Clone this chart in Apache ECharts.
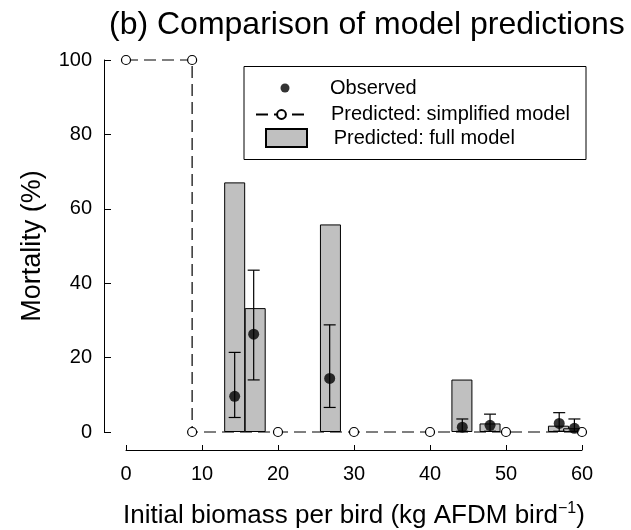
<!DOCTYPE html>
<html>
<head>
<meta charset="utf-8">
<script src="https://cdn.jsdelivr.net/npm/echarts@6/dist/echarts.min.js"></script>
<style>html,body{margin:0;padding:0;background:#fff}#c{width:631px;height:530px}</style>
</head>
<body>
<div id="c"></div>
<script>
// Observed mortality (%) with error range
const obsX = [14.3, 16.8, 26.8, 44.25, 47.9, 57.0, 59.0];
const obsY = [9.6, 26.3, 14.4, 1.3, 1.8, 2.3, 1.0];
const obsLow = [3.9, 14.0, 6.6, 0.2, 0.2, 0.2, 0.2];
const obsHigh = [21.4, 43.5, 28.8, 3.5, 4.8, 5.2, 3.5];
// Predicted: full model (bars)
const fullX = [14.3, 17.0, 26.9, 44.2, 47.9, 56.9, 58.9];
const fullY = [67.1, 33.3, 55.8, 14.1, 2.3, 1.7, 1.0];
// Predicted: simplified model
const simpleX = [0, 8.7, 8.7, 20, 30, 40, 50, 60];
const simpleY = [100, 100, 0, 0, 0, 0, 0, 0];
// Axis ticks
const xTicks = [0, 10, 20, 30, 40, 50, 60];
const yTicks = [0, 20, 40, 60, 80, 100];

const FONT = 'Liberation Sans, Arial, Helvetica, sans-serif';
const chart = echarts.init(document.getElementById('c'), null, {renderer: 'canvas'});

const option = {
  animation: false,
  backgroundColor: '#fff',
  title: {
    text: '(b) Comparison of model predictions',
    left: 104, top: 4,
    textStyle: {fontFamily: FONT, fontSize: 32, fontWeight: 'normal', color: '#000'}
  },
  grid: {left: 126, right: 49, top: 60, bottom: 98, containLabel: false, outerBoundsMode: 'none'},
  xAxis: {
    type: 'value', min: xTicks[0], max: xTicks[xTicks.length - 1], interval: 10,
    offset: 18,
    name: 'Initial biomass per bird (kg AFDM bird{sup|\u22121})',
    nameLocation: 'middle', nameGap: 51,
    nameTextStyle: {
      fontFamily: FONT, fontSize: 26, color: '#000',
      rich: {sup: {fontFamily: FONT, fontSize: 16, color: '#000', verticalAlign: 'top', padding: [0, 0, 13, 0]}}
    },
    axisLine: {show: true, onZero: false, lineStyle: {color: '#000', width: 1}},
    axisTick: {show: true, inside: true, length: 5, lineStyle: {color: '#000'}},
    axisLabel: {margin: 14, fontFamily: FONT, fontSize: 20, color: '#000'},
    splitLine: {show: false}
  },
  yAxis: {
    type: 'value', min: yTicks[0], max: yTicks[yTicks.length - 1], interval: 20,
    offset: 22,
    name: 'Mortality (%)',
    nameLocation: 'middle', nameGap: 58,
    nameTextStyle: {fontFamily: FONT, fontSize: 27, color: '#000'},
    axisLine: {show: true, onZero: false, lineStyle: {color: '#000', width: 1}},
    axisTick: {show: true, inside: true, length: 7, lineStyle: {color: '#000'}},
    axisLabel: {margin: 12, fontFamily: FONT, fontSize: 20, color: '#000'},
    splitLine: {show: false}
  },
  legend: [
    {
      data: ['Observed'], selectedMode: false, orient: 'vertical',
      left: 280.5, top: 78, itemWidth: 9, itemHeight: 9, padding: 0,
      textStyle: {fontFamily: FONT, fontSize: 20, color: '#000', padding: [0, 0, 0, 35.5]}
    },
    {
      data: ['Predicted: simplified model'], selectedMode: false, orient: 'vertical',
      left: 255, top: 104.5, itemWidth: 51, itemHeight: 11, padding: 0,
      textStyle: {fontFamily: FONT, fontSize: 20, color: '#000', padding: [0, 0, 0, 19]}
    },
    {
      data: [{name: 'Predicted: full model', icon: 'rect'}], selectedMode: false, orient: 'vertical',
      left: 265, top: 128, itemWidth: 41, itemHeight: 18, padding: 0,
      textStyle: {fontFamily: FONT, fontSize: 20, color: '#000', padding: [0, 0, 0, 21.7]}
    }
  ],
  graphic: [{
    type: 'rect', left: 241.5, top: 64, z: 100,
    shape: {width: 342, height: 93},
    style: {fill: 'none', stroke: '#000', lineWidth: 1}
  }],
  series: [
    {
      name: 'Predicted: simplified model', type: 'line',
      data: simpleX.map((x, i) => [x, simpleY[i]]),
      symbol: 'circle', symbolSize: 9, showAllSymbol: true, clip: false,
      lineStyle: {color: '#000', width: 1.2, type: [12, 6]},
      itemStyle: {color: '#fff', borderColor: '#000', borderWidth: 1.2},
      z: 5
    },
    {
      name: 'Predicted: full model', type: 'bar', z: 3, clip: false,
      barWidth: 21,
      data: fullX.map((x, i) => [x, fullY[i]]),
      itemStyle: {color: '#c0c0c0', borderColor: '#000', borderWidth: 1}
    },
    {
      name: 'Observed error', type: 'custom', z: 4, clip: false,
      data: obsX.map((x, i) => [x, obsLow[i], obsHigh[i]]),
      renderItem: function (params, api) {
        const x = api.value(0);
        const pLo = api.coord([x, api.value(1)]);
        const pHi = api.coord([x, api.value(2)]);
        const hw = 6;
        const st = {stroke: '#000', lineWidth: 1.2};
        return {
          type: 'group',
          children: [
            {type: 'line', shape: {x1: pLo[0], y1: pLo[1], x2: pHi[0], y2: pHi[1]}, style: st},
            {type: 'line', shape: {x1: pHi[0] - hw, y1: pHi[1], x2: pHi[0] + hw, y2: pHi[1]}, style: st},
            {type: 'line', shape: {x1: pLo[0] - hw, y1: pLo[1], x2: pLo[0] + hw, y2: pLo[1]}, style: st}
          ]
        };
      }
    },
    {
      name: 'Observed', type: 'scatter', z: 6, clip: false,
      symbol: 'circle', symbolSize: 11,
      data: obsX.map((x, i) => [x, obsY[i]]),
      itemStyle: {color: '#000'}
    }
  ]
};
chart.setOption(option);
</script>
</body>
</html>
